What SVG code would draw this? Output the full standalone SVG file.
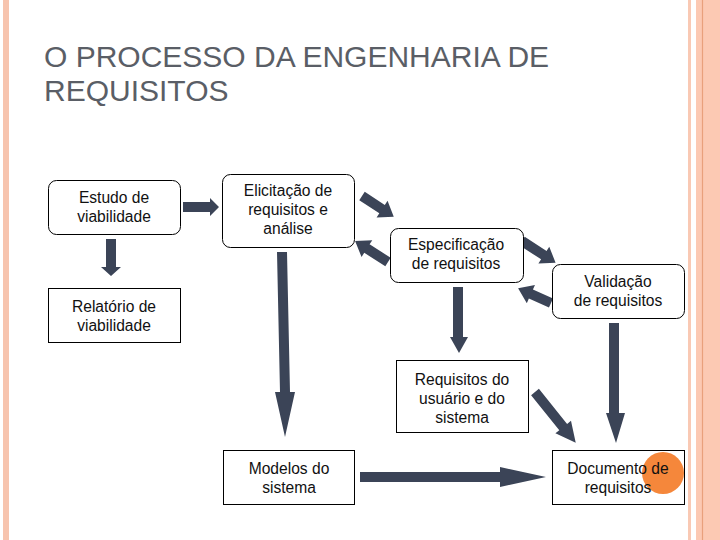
<svg xmlns="http://www.w3.org/2000/svg" width="720" height="540" viewBox="0 0 720 540">
<style>
.t{font-family:"Liberation Sans",Arial,sans-serif;font-size:15.6px;fill:#111;text-anchor:middle}
.title{font-family:"Liberation Sans",Arial,sans-serif;font-size:30px;fill:#5a5e66}
.box{fill:#fff;stroke:#000;stroke-width:1}
.arr{fill:#3b4457}
</style>
<rect width="720" height="540" fill="#fff"/>
<g id="border">
<rect x="3" y="0" width="6" height="540" fill="#f7c4ae"/>
<rect x="688" y="0" width="3" height="540" fill="#f9c9b4"/>
<rect x="696" y="0" width="24" height="540" fill="#fcc9b3"/>
<line x1="702.5" y1="0" x2="702.5" y2="540" stroke="#e9a07c" stroke-width="1.2"/>
</g>
<g id="title">
<text class="title" x="44" y="67">O PROCESSO DA ENGENHARIA DE</text>
<text class="title" x="44" y="101">REQUISITOS</text>
</g>
<g id="connectors">
<polygon class="arr" points="183,202 210,202 210,198 219,207 210,216 210,212 183,212"/>
<polygon class="arr" points="106,239 116,239 116,267 121,267 111,276 101,267 106,267"/>
<polygon class="arr" points="277,252 287,252 290,392 295,392 285,437 275,392 280,392"/>
<polygon class="arr" points="360,472 500,472 500,467 546,477 500,487 500,482 360,482"/>
<polygon class="arr" points="609,323 619,323 619,413 625,413 616,443 606,413 609,413"/>
<polygon class="arr" points="453,287 463,287 463,337 468,337 459,353 450,337 453,337"/>
<polygon class="arr" transform="translate(362,196) rotate(33.3)" points="0,-5 24,-5 24,-10 38,0 24,10 24,5 0,5"/>
<polygon class="arr" transform="translate(388,262) rotate(212.5)" points="0,-5 25,-5 25,-10 39,0 25,10 25,5 0,5"/>
<polygon class="arr" transform="translate(522,241) rotate(32.9)" points="0,-5 26,-5 26,-10 40,0 26,10 26,5 0,5"/>
<polygon class="arr" transform="translate(551,303) rotate(204)" points="0,-5 22,-5 22,-10 36,0 22,10 22,5 0,5"/>
<polygon class="arr" transform="translate(535,392) rotate(51.2)" points="0,-5 45,-5 45,-10 65,0 45,10 45,5 0,5"/>
</g>
<g id="estudo">
<rect class="box" x="48.5" y="180.5" width="132" height="54" rx="8"/>
<text class="t" x="114" y="203">Estudo de</text>
<text class="t" x="114" y="222">viabilidade</text>
</g>
<g id="elicitacao">
<rect class="box" x="222.5" y="174.5" width="132" height="73" rx="8"/>
<text class="t" x="288" y="196">Elicitação de</text>
<text class="t" x="288" y="215">requisitos e</text>
<text class="t" x="288" y="234">análise</text>
</g>
<g id="relatorio">
<rect class="box" x="48.5" y="288.5" width="132" height="54"/>
<text class="t" x="114" y="312">Relatório de</text>
<text class="t" x="114" y="331">viabilidade</text>
</g>
<g id="especificacao">
<rect class="box" x="390.5" y="228.5" width="133" height="54" rx="8"/>
<text class="t" x="456" y="250">Especificação</text>
<text class="t" x="456" y="269">de requisitos</text>
</g>
<g id="validacao">
<rect class="box" x="552.5" y="264.5" width="132" height="54" rx="8"/>
<text class="t" x="618" y="287">Validação</text>
<text class="t" x="618" y="306">de requisitos</text>
</g>
<g id="requisitos">
<rect class="box" x="396.5" y="360.5" width="132" height="72"/>
<text class="t" x="462" y="385">Requisitos do</text>
<text class="t" x="462" y="404">usuário e do</text>
<text class="t" x="462" y="423">sistema</text>
</g>
<g id="modelos">
<rect class="box" x="223.5" y="450.5" width="131" height="54"/>
<text class="t" x="289" y="474">Modelos do</text>
<text class="t" x="289" y="493">sistema</text>
</g>
<g id="documento">
<rect class="box" x="552.5" y="450.5" width="132" height="54"/>
<circle cx="663" cy="473" r="21" fill="#f5873b"/>
<text class="t" x="618" y="474">Documento de</text>
<text class="t" x="618" y="493">requisitos</text>
</g>
</svg>
